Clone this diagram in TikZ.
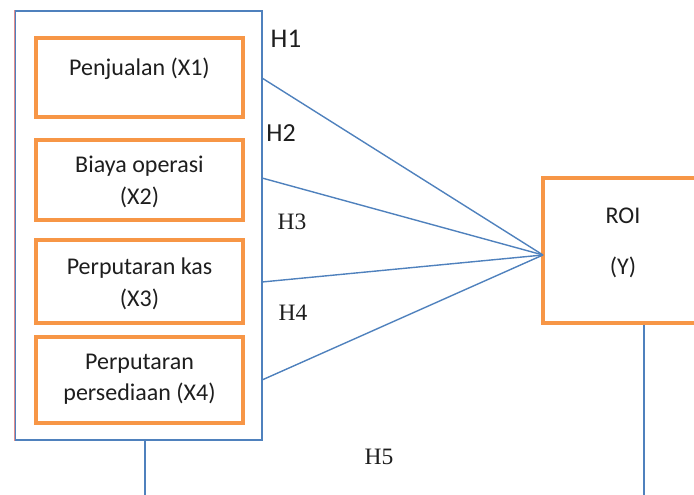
\documentclass[tikz,border=0pt]{standalone}
\usepackage{fontspec}
\setmainfont{Carlito}
\newfontfamily\serifH{Liberation Serif}
\definecolor{orng}{RGB}{247,150,70}
\definecolor{blu}{RGB}{79,129,189}
\definecolor{pnk}{RGB}{225,140,140}
\definecolor{txt}{RGB}{30,30,30}
\begin{document}
\begin{tikzpicture}[x=1pt,y=-1pt,
  obox/.style={draw=orng,line width=3.5pt,inner sep=0pt},
  btext/.style={font=\fontsize{24}{31.5}\selectfont,text=txt,align=center,inner sep=0pt},
  hsans/.style={font=\fontsize{26}{28}\selectfont,text=txt,inner sep=0pt},
  hserif/.style={font=\serifH\fontsize{23.5}{26}\selectfont,text=txt,inner sep=0pt},
  conn/.style={draw=blu,line width=1.4pt}]
\useasboundingbox (0,0) rectangle (694,495);
\clip (0,0) rectangle (694,495);
% outer group box
\node[draw=blu,line width=1.4pt,minimum width=247pt,minimum height=429pt,inner sep=0pt] (grp) at (138.5,225.5) {};
\draw[pnk,line width=1.6pt] (grp.south west) -- (grp.north west);
% inner boxes
\node[obox,minimum width=207pt,minimum height=79pt] (x1) at (139.5,77.5) {};
\node[obox,minimum width=207pt,minimum height=80pt] (x2) at (139.5,180) {};
\node[obox,minimum width=207pt,minimum height=83pt] (x3) at (139.5,281.5) {};
\node[obox,minimum width=207pt,minimum height=86pt] (x4) at (139.5,380) {};
\node[btext] (t1) at (139.5,69) {Penjualan (X1)};
\node[btext] (t2) at (139.5,182) {Biaya operasi\\(X2)};
\node[btext] (t3) at (139.5,284) {Perputaran kas\\(X3)};
\node[btext] (t4) at (139.5,379) {Perputaran\\persediaan (X4)};
% ROI box
\node[obox,minimum width=160pt,minimum height=145pt] (y) at (623,250.5) {};
\node[btext,font=\fontsize{24}{51}\selectfont] (ty) at (623,243) {ROI\\(Y)};
% connectors
\coordinate (c1) at (262,78);
\coordinate (c2) at (262,178);
\coordinate (c3) at (262,282);
\coordinate (c4) at (262,380);
\coordinate (tip) at (543,255);
\draw[conn] (c1) -- (tip);
\draw[conn] (c2) -- (tip);
\draw[conn] (c3) -- (tip);
\draw[conn] (c4) -- (tip);
\coordinate (d1) at (145,495);
\coordinate (d2) at (644,495);
\draw[conn] (grp.south -| d1) -- (d1);
\draw[conn] (y.south -| d2) -- (d2);
% labels
\node[hsans,font=\fontsize{27}{28}\selectfont] (h1) at (286,39) {H1};
\node[hsans] (h2) at (281,133) {H2};
\node[hserif] (h3) at (292,222) {H3};
\node[hserif] (h4) at (293,313) {H4};
\node[hserif] (h5) at (379,457) {H5};
\end{tikzpicture}
\end{document}
